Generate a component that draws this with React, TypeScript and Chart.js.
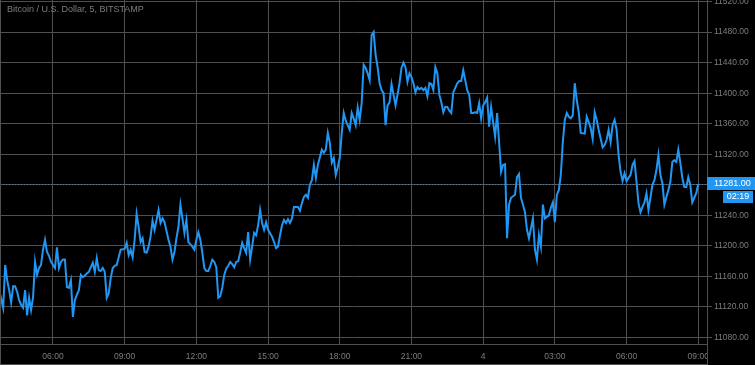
import React, { useEffect, useRef } from "react";
import { Chart, registerables } from "chart.js";

Chart.register(...registerables);

const chartTitle = "Bitcoin / U.S. Dollar, 5, BITSTAMP";
const startMinute = 225; // first 5-minute bar: 03:45
const barMinutes = 5;

const barIndex = [
  0, 2, 3, 4, 5, 6, 7, 8, 9, 10, 11, 12, 13, 14, 15, 16, 17, 18, 19, 20,
  21, 22, 23, 24, 25, 26, 27, 28, 29, 30, 31, 32, 33, 34, 35, 36, 37, 38, 39, 40,
  41, 42, 43, 44, 45, 47, 48, 49, 50, 51, 52, 53, 54, 55, 56, 57, 58, 59, 60, 61,
  63, 64, 65, 66, 67, 68, 69, 70, 71, 72, 73, 74, 75, 76, 77, 78, 80, 81, 82, 83,
  85, 86, 87, 88, 89, 90, 91, 92, 93, 94, 95, 97, 98, 99, 100, 101, 102, 103, 104, 105,
  106, 107, 108, 109, 110, 111, 112, 113, 114, 115, 116, 117, 118, 119, 120, 121, 122, 123, 124, 125,
  126, 127, 128, 129, 130, 131, 132, 133, 134, 135, 137, 138, 139, 140, 141, 142, 143, 144, 145, 146,
  147, 148, 150, 151, 152, 153, 154, 155, 156, 157, 158, 159, 160, 162, 163, 164, 165, 166, 167, 168,
  169, 170, 171, 172, 173, 174, 176, 177, 178, 179, 180, 181, 182, 183, 184, 185, 186, 187, 188, 189,
  190, 191, 192, 193, 194, 195, 196, 197, 198, 199, 200, 201, 202, 203, 204, 205, 206, 207, 208, 209,
  210, 211, 212, 213, 214, 215, 216, 217, 218, 219, 220, 221, 222, 223, 224, 225, 226, 227, 228, 229,
  230, 231, 232, 233, 234, 235, 236, 237, 238, 239, 240, 241, 242, 243, 244, 245, 246, 247, 248, 249,
  250, 251, 252, 253, 254, 255, 256, 257, 258, 259, 260, 261, 262, 263, 264, 265, 266, 268, 269, 270,
  271, 272, 273, 274, 275, 276, 277, 278, 279, 280, 281, 282, 283, 284, 285, 286, 287, 288, 289, 290,
  291, 292, 294, 295, 296, 297, 298, 299, 300, 301, 303, 304, 305, 306, 307, 308, 309, 310, 311, 312,
  313, 314, 315, 316, 317, 318, 319, 320, 321, 322, 323, 324, 325, 326, 327, 328, 329, 330, 331, 332,
  333, 334, 335, 336, 337, 338, 339, 340, 341, 342, 343, 344, 345, 346, 347, 348, 349, 350, 351,
];

const prices = [
  11142, 11119, 11175, 11155, 11142, 11126, 11147, 11147, 11140, 11129, 11123, 11119, 11142, 11109, 11132, 11116, 11133, 11179, 11162, 11171,
  11175, 11195, 11208, 11192, 11187, 11179, 11175, 11171, 11198, 11171, 11179, 11182, 11182, 11146, 11145, 11155, 11107, 11129, 11136, 11142,
  11162, 11159, 11161, 11164, 11166, 11178, 11166, 11184, 11168, 11167, 11171, 11166, 11132, 11138, 11158, 11171, 11174, 11175, 11185, 11195,
  11196, 11204, 11188, 11195, 11185, 11208, 11242, 11225, 11205, 11210, 11192, 11191, 11199, 11212, 11233, 11221, 11247, 11230, 11236, 11231,
  11208, 11199, 11182, 11192, 11210, 11225, 11254, 11236, 11217, 11234, 11205, 11199, 11195, 11208, 11218, 11208, 11191, 11171, 11167, 11167,
  11174, 11182, 11179, 11172, 11132, 11134, 11145, 11162, 11170, 11174, 11179, 11176, 11172, 11179, 11180, 11191, 11204, 11197, 11191, 11218,
  11182, 11199, 11217, 11214, 11227, 11247, 11230, 11221, 11231, 11221, 11212, 11205, 11197, 11199, 11214, 11227, 11234, 11230, 11235, 11230,
  11236, 11251, 11251, 11246, 11256, 11264, 11267, 11263, 11280, 11286, 11306, 11289, 11306, 11326, 11322, 11326, 11348, 11335, 11309, 11315,
  11293, 11303, 11315, 11348, 11374, 11364, 11352, 11374, 11367, 11358, 11381, 11365, 11387, 11437, 11433, 11426, 11417, 11476, 11480, 11450,
  11434, 11413, 11404, 11400, 11358, 11384, 11388, 11412, 11398, 11384, 11398, 11413, 11433, 11440, 11434, 11415, 11426, 11421, 11413, 11401,
  11408, 11405, 11407, 11404, 11407, 11396, 11413, 11412, 11404, 11434, 11426, 11398, 11388, 11375, 11382, 11382, 11377, 11374, 11401, 11407,
  11413, 11416, 11416, 11430, 11417, 11404, 11398, 11374, 11374, 11375, 11374, 11387, 11367, 11384, 11388, 11394, 11356, 11382, 11362, 11343,
  11374, 11336, 11297, 11306, 11307, 11210, 11254, 11263, 11265, 11267, 11290, 11294, 11263, 11254, 11244, 11221, 11210, 11236, 11195, 11182,
  11214, 11199, 11254, 11236, 11238, 11240, 11250, 11257, 11231, 11267, 11273, 11293, 11336, 11365, 11374, 11369, 11367, 11371, 11413, 11391,
  11375, 11348, 11347, 11369, 11362, 11354, 11340, 11375, 11365, 11352, 11329, 11332, 11339, 11352, 11336, 11358, 11365, 11352, 11319, 11297,
  11285, 11295, 11285, 11289, 11293, 11306, 11311, 11284, 11256, 11244, 11251, 11257, 11269, 11247, 11263, 11280, 11286, 11299, 11319, 11293,
  11282, 11254, 11264, 11273, 11284, 11310, 11312, 11310, 11326, 11309, 11289, 11277, 11277, 11290, 11280, 11257, 11263, 11269, 11281,
];

const lastPrice = 11281;
const countdown = "02:19";

const xTickValues = [360, 540, 720, 900, 1080, 1260, 1440, 1620, 1800, 1980];
const xTickLabels = ["06:00", "09:00", "12:00", "15:00", "18:00", "21:00", "4", "03:00", "06:00", "09:00"];
const yTickValues = [11080, 11120, 11160, 11200, 11240, 11280, 11320, 11360, 11400, 11440, 11480, 11520];

const X_MIN = 227;
const X_MAX = 2002;
const Y_MIN = 11071.5;
const Y_MAX = 11522;

const BLUE = "#2196f3";
const GRID = "#4f4f4f";
const TEXT = "#7d7d7d";
const FONT = "'Liberation Sans', Arial, sans-serif";

const overlayPlugin = {
  id: "tvOverlay",
  beforeDraw(chart: any) {
    const { ctx, width, height } = chart;
    ctx.save();
    ctx.fillStyle = "#000";
    ctx.fillRect(0, 0, width, height);
    ctx.restore();
  },
  beforeDatasetsDraw(chart: any) {
    const { ctx, chartArea, scales } = chart;
    const y = Math.round(scales.y.getPixelForValue(lastPrice)) + 0.5;
    ctx.save();
    ctx.strokeStyle = "rgba(70, 140, 200, 0.85)";
    ctx.lineWidth = 1;
    ctx.setLineDash([1, 2]);
    ctx.beginPath();
    ctx.moveTo(chartArea.left, y);
    ctx.lineTo(chartArea.right, y);
    ctx.stroke();
    ctx.restore();
  },
  afterDraw(chart: any) {
    const { ctx, chartArea, scales, width, height } = chart;
    ctx.save();
    // hide x labels overflowing into price-axis area
    ctx.fillStyle = "#000";
    ctx.fillRect(chartArea.right + 1, chartArea.bottom + 1, width - chartArea.right, height - chartArea.bottom);
    // frame lines
    ctx.strokeStyle = GRID;
    ctx.lineWidth = 1;
    ctx.beginPath();
    ctx.moveTo(chartArea.right + 0.5, chartArea.bottom);
    ctx.lineTo(chartArea.right + 0.5, height);
    ctx.moveTo(0.5, 0);
    ctx.lineTo(0.5, height);
    ctx.moveTo(0, height - 0.5);
    ctx.lineTo(chartArea.right + 1, height - 0.5);
    ctx.stroke();

    // last price label
    const y = Math.round(scales.y.getPixelForValue(lastPrice));
    ctx.fillStyle = BLUE;
    ctx.fillRect(chartArea.right, y - 7, width - chartArea.right, 13);
    ctx.fillStyle = "#ffffff";
    ctx.font = `9px ${FONT}`;
    ctx.textBaseline = "middle";
    ctx.textAlign = "left";
    ctx.fillText(lastPrice.toFixed(2), chartArea.right + 7, y);
    // countdown
    ctx.fillStyle = BLUE;
    ctx.fillRect(chartArea.right + 16, y + 7, width - chartArea.right - 18, 12);
    ctx.fillStyle = "#ffffff";
    ctx.textAlign = "center";
    ctx.fillText(countdown, chartArea.right + 16 + (width - chartArea.right - 18) / 2, y + 13);

    // title
    ctx.fillStyle = TEXT;
    ctx.font = `9px ${FONT}`;
    ctx.textAlign = "left";
    ctx.textBaseline = "middle";
    ctx.fillText(chartTitle, 7, 10);
    ctx.restore();
  },
};

export default function App() {
  const canvasRef = useRef<HTMLCanvasElement | null>(null);

  useEffect(() => {
    if (!canvasRef.current) return;
    const points = barIndex.map((b, k) => ({ x: startMinute + b * barMinutes, y: prices[k] }));
    const chart = new Chart(canvasRef.current, {
      type: "line",
      data: {
        datasets: [
          {
            data: points,
            borderColor: BLUE,
            borderWidth: 2,
            pointRadius: 0,
            tension: 0,
            fill: false,
          },
        ],
      },
      options: {
        animation: false,
        responsive: false,
        maintainAspectRatio: false,
        parsing: false as any,
        layout: { padding: 0 },
        plugins: {
          legend: { display: false },
          title: { display: false },
          tooltip: { enabled: false },
        },
        scales: {
          x: {
            type: "linear",
            min: X_MIN,
            max: X_MAX,
            afterBuildTicks: (scale: any) => {
              scale.ticks = xTickValues.map((v) => ({ value: v }));
            },
            afterFit: (scale: any) => {
              scale.height = 21;
              scale.paddingLeft = 0;
              scale.paddingRight = 0;
            },
            grid: { color: GRID, drawTicks: false, lineWidth: 1 },
            border: { display: true, color: GRID },
            ticks: {
              color: TEXT,
              font: { family: FONT, size: 8.5 },
              padding: 8,
              maxRotation: 0,
              autoSkip: false,
              callback: (_v: any, i: number) => xTickLabels[i],
            },
          },
          y: {
            type: "linear",
            position: "right",
            min: Y_MIN,
            max: Y_MAX,
            afterBuildTicks: (scale: any) => {
              scale.ticks = yTickValues.map((v) => ({ value: v }));
            },
            afterFit: (scale: any) => {
              scale.width = 48;
              scale.paddingTop = 0;
              scale.paddingBottom = 0;
            },
            grid: { color: GRID, drawTicks: true, tickLength: 5, lineWidth: 1 },
            border: { display: true, color: GRID },
            ticks: {
              color: TEXT,
              font: { family: FONT, size: 8.5 },
              padding: 2,
              callback: (v: any) => Number(v).toFixed(2),
            },
          },
        },
      },
      plugins: [overlayPlugin],
    });
    return () => chart.destroy();
  }, []);

  return (
    <div style={{ position: "fixed", left: 0, top: 0, width: 755, height: 365, background: "#000" }}>
      <canvas ref={canvasRef} width={755} height={365} style={{ display: "block" }} />
    </div>
  );
}
